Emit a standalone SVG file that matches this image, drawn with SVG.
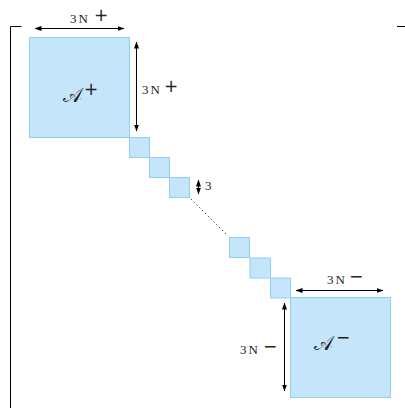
<svg xmlns="http://www.w3.org/2000/svg" width="405" height="408" viewBox="0 0 405 408">
<style>
.blk{fill:#c5e5fb;stroke:#8fd0f8;stroke-width:1}
.ln{stroke:#000;stroke-width:1;fill:none}
.dim{stroke:#000;stroke-width:1;fill:none;marker-start:url(#ah);marker-end:url(#ah)}
.t{font-family:"Liberation Serif","DejaVu Serif",serif;font-size:13px;fill:#222}
.s{font-family:"DejaVu Sans","Liberation Sans",sans-serif;font-size:17px;fill:#222}
.a{font-family:"DejaVu Serif","Liberation Serif",serif;font-size:20px;fill:#222}
</style>
<defs>
<marker id="ah" viewBox="0 0 7 5" refX="6.5" refY="2.5" markerWidth="7" markerHeight="5" markerUnits="userSpaceOnUse" orient="auto-start-reverse">
<path d="M0,0 L7,2.5 L0,5 z" fill="#000"/>
</marker>
</defs>
<g id="brackets">
<path class="ln" d="M21.5,26.5 H10.5 V408"/>
<path class="ln" d="M397,26.5 H405"/>
</g>
<g id="A-plus"><rect class="blk" x="29.5" y="37.5" width="100" height="100"/>
<text class="a" x="63" y="102">𝒜</text><text class="s" x="84" y="95">+</text></g>
<g id="b1"><rect class="blk" x="129.5" y="137.5" width="20" height="20"/></g>
<g id="b2"><rect class="blk" x="149.5" y="157.5" width="20" height="20"/></g>
<g id="b3"><rect class="blk" x="169.5" y="177.5" width="20" height="20"/></g>
<g id="b4"><rect class="blk" x="229.5" y="237.5" width="20" height="20"/></g>
<g id="b5"><rect class="blk" x="250" y="258" width="20.5" height="20"/></g>
<g id="b6"><rect class="blk" x="270.5" y="278" width="20" height="20"/></g>
<g id="A-minus"><rect class="blk" x="290.5" y="297.5" width="100" height="100"/>
<text class="a" x="314" y="350">𝒜</text><text class="s" x="336" y="343">−</text></g>
<g id="connectors">
<path class="ln" d="M191,199 L227,235" stroke-dasharray="1,3"/>
<path class="dim" d="M35,28.5 H124"/>
<path class="dim" d="M136.5,42 V131"/>
<path class="dim" d="M198.5,180 V194"/>
<path class="dim" d="M296,290.5 H383"/>
<path class="dim" d="M284.5,303 V391"/>
</g>
<g id="labels">
<text class="t" x="70" y="23">3<tspan dx="2">N</tspan></text><text class="s" x="94" y="21">+</text>
<text class="t" x="142" y="94">3<tspan dx="2">N</tspan></text><text class="s" x="164" y="92">+</text>
<text class="t" x="205" y="190">3</text>
<text class="t" x="327" y="284">3<tspan dx="2">N</tspan></text><text class="s" x="349" y="282">−</text>
<text class="t" x="240" y="354">3<tspan dx="2">N</tspan></text><text class="s" x="263" y="352">−</text>
</g>
</svg>
